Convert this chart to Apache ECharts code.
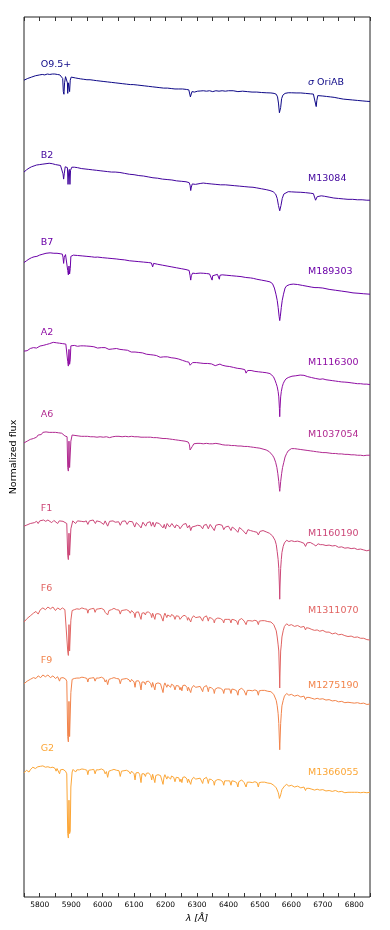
<!DOCTYPE html>
<html>
<head>
<meta charset="utf-8">
<script src="https://cdn.jsdelivr.net/npm/echarts@6/dist/echarts.min.js"></script>
<style>
  html, body { margin: 0; padding: 0; background: #fff; }
  #chart { width: 390px; height: 930px; }
</style>
</head>
<body>
<div id="chart"></div>
<script>
// wavelength ticks
var xTicks = [5800, 5900, 6000, 6100, 6200, 6300, 6400, 6500, 6600, 6700, 6800];

var spTypes = ["O9.5+", "B2", "B7", "A2", "A6", "F1", "F6", "F9", "G2"];
var starNames = ["σ OriAB", "M13084", "M189303", "M1116300", "M1037054", "M1160190", "M1311070", "M1275190", "M1366055"];
var colors = ["#0d0887", "#41049d", "#6a00a8", "#8f0da4", "#b12a90", "#cc4778", "#e16462", "#f2844b", "#fca636"];

// vertical offset of every spectrum
var offsets = [8.352, 7.338, 6.32, 5.303, 4.28, 3.284, 2.295, 1.523, 0.5];
// label heights (axis units)
var leftLabelY = [9.455, 8.424, 7.44, 6.413, 5.477, 4.42, 3.511, 2.682, 1.682];
var rightLabelY = [9.261, 8.159, 7.106, 6.076, 5.25, 4.136, 3.25, 2.398, 1.42];

// normalized flux, [wavelength, flux]
var sO95 = [[5750,0.93],[5756,0.945],[5762,0.95],[5768,0.96],[5774,0.965],[5780,0.975],[5786,0.98],[5792,0.985],[5800,0.99],[5808,0.995],[5816,0.99],[5824,1.0],[5832,0.995],[5840,1.0],[5848,1.0],[5856,0.995],[5864,0.99],[5870,0.985],[5873,0.95],[5875,0.8],[5877,0.77],[5879,0.9],[5882,0.97],[5886,0.97],[5888,0.9],[5889,0.78],[5891,0.9],[5893,0.92],[5895,0.8],[5897,0.93],[5900,0.965],[5906,0.96],[5914,0.955],[5922,0.95],[5930,0.945],[5940,0.94],[5950,0.935],[5960,0.935],[5970,0.93],[5980,0.925],[5992,0.92],[6004,0.915],[6016,0.91],[6028,0.905],[6040,0.9],[6052,0.895],[6064,0.89],[6076,0.885],[6088,0.88],[6097,0.88],[6110,0.875],[6122,0.87],[6134,0.865],[6146,0.86],[6158,0.855],[6170,0.85],[6182,0.845],[6194,0.84],[6206,0.84],[6218,0.835],[6230,0.83],[6242,0.83],[6254,0.83],[6266,0.825],[6274,0.82],[6277,0.8],[6279,0.74],[6281,0.76],[6284,0.8],[6288,0.81],[6292,0.795],[6296,0.81],[6302,0.805],[6310,0.807],[6320,0.81],[6330,0.805],[6340,0.81],[6350,0.8],[6360,0.81],[6370,0.805],[6380,0.81],[6390,0.805],[6400,0.81],[6415,0.81],[6430,0.8],[6445,0.805],[6460,0.8],[6475,0.795],[6490,0.795],[6505,0.79],[6520,0.787],[6535,0.785],[6545,0.78],[6552,0.77],[6556,0.74],[6559,0.67],[6562,0.56],[6564,0.55],[6566,0.62],[6569,0.72],[6573,0.76],[6580,0.78],[6590,0.787],[6600,0.787],[6615,0.785],[6630,0.785],[6645,0.78],[6660,0.775],[6670,0.772],[6674,0.76],[6677,0.66],[6679,0.63],[6681,0.7],[6684,0.755],[6690,0.755],[6700,0.75],[6712,0.745],[6724,0.74],[6736,0.735],[6750,0.725],[6765,0.715],[6780,0.71],[6795,0.705],[6810,0.7],[6825,0.695],[6840,0.69],[6850,0.688]];

var sB2 = [[5750,0.9],[5758,0.925],[5766,0.945],[5774,0.96],[5782,0.97],[5790,0.98],[5800,0.985],[5810,0.99],[5820,0.995],[5830,1.0],[5840,0.995],[5850,0.985],[5858,0.98],[5866,0.975],[5871,0.96],[5874,0.88],[5876,0.82],[5878,0.88],[5881,0.96],[5885,0.965],[5888,0.95],[5890,0.76],[5892,0.9],[5894,0.93],[5896,0.76],[5898,0.92],[5902,0.955],[5910,0.955],[5920,0.95],[5932,0.94],[5944,0.935],[5956,0.93],[5968,0.925],[5980,0.92],[5992,0.915],[6004,0.91],[6016,0.905],[6028,0.9],[6040,0.9],[6055,0.895],[6070,0.885],[6085,0.875],[6100,0.87],[6115,0.86],[6130,0.855],[6145,0.845],[6160,0.835],[6175,0.83],[6190,0.82],[6205,0.815],[6220,0.81],[6235,0.8],[6250,0.795],[6265,0.79],[6275,0.78],[6278,0.75],[6280,0.69],[6282,0.73],[6285,0.765],[6290,0.77],[6295,0.76],[6300,0.775],[6310,0.77],[6320,0.775],[6331,0.77],[6345,0.765],[6360,0.76],[6375,0.755],[6390,0.755],[6405,0.75],[6420,0.745],[6435,0.74],[6450,0.735],[6465,0.73],[6478,0.727],[6490,0.72],[6505,0.71],[6520,0.7],[6532,0.69],[6542,0.677],[6550,0.65],[6555,0.6],[6559,0.52],[6563,0.46],[6567,0.52],[6571,0.6],[6576,0.65],[6582,0.67],[6590,0.677],[6600,0.675],[6615,0.672],[6630,0.67],[6645,0.666],[6660,0.66],[6670,0.655],[6674,0.64],[6677,0.58],[6679,0.57],[6682,0.62],[6686,0.635],[6695,0.63],[6705,0.625],[6720,0.615],[6735,0.605],[6750,0.6],[6765,0.595],[6780,0.59],[6795,0.59],[6810,0.585],[6825,0.585],[6840,0.58],[6850,0.58]];

var sB7 = [[5750,0.89],[5758,0.91],[5766,0.93],[5774,0.945],[5782,0.955],[5791,0.96],[5800,0.975],[5810,0.985],[5820,0.995],[5833,1.0],[5845,0.995],[5855,0.995],[5865,0.99],[5872,0.985],[5874,0.95],[5876,0.88],[5878,0.95],[5882,0.98],[5887,0.975],[5889,0.8],[5891,0.75],[5893,0.85],[5895,0.76],[5897,0.82],[5899,0.96],[5907,0.974],[5920,0.97],[5935,0.965],[5950,0.96],[5965,0.955],[5975,0.95],[5980,0.935],[5984,0.952],[6000,0.945],[6015,0.94],[6030,0.935],[6045,0.93],[6055,0.925],[6070,0.92],[6085,0.91],[6100,0.905],[6115,0.9],[6130,0.895],[6145,0.89],[6155,0.885],[6159,0.84],[6162,0.88],[6175,0.87],[6190,0.86],[6205,0.85],[6220,0.84],[6235,0.83],[6250,0.82],[6265,0.81],[6275,0.8],[6278,0.74],[6280,0.69],[6282,0.74],[6286,0.77],[6290,0.78],[6295,0.765],[6300,0.775],[6310,0.77],[6320,0.768],[6330,0.765],[6340,0.76],[6346,0.745],[6348,0.69],[6350,0.74],[6355,0.76],[6365,0.755],[6369,0.74],[6371,0.7],[6373,0.745],[6380,0.75],[6395,0.745],[6410,0.74],[6425,0.735],[6440,0.73],[6455,0.72],[6470,0.715],[6479,0.71],[6490,0.7],[6505,0.69],[6520,0.68],[6532,0.67],[6540,0.65],[6546,0.6],[6551,0.53],[6555,0.46],[6558,0.38],[6561,0.28],[6563,0.23],[6565,0.28],[6568,0.38],[6571,0.46],[6575,0.53],[6580,0.6],[6585,0.625],[6595,0.64],[6606,0.645],[6620,0.64],[6635,0.63],[6650,0.62],[6665,0.61],[6675,0.605],[6680,0.595],[6685,0.605],[6700,0.6],[6720,0.585],[6740,0.575],[6760,0.565],[6780,0.555],[6796,0.545],[6815,0.54],[6830,0.535],[6850,0.53]];

var sA2 = [[5750,0.9],[5755,0.91],[5760,0.905],[5765,0.925],[5770,0.93],[5775,0.92],[5780,0.94],[5785,0.945],[5790,0.935],[5795,0.955],[5801,0.958],[5806,0.97],[5811,0.965],[5816,0.98],[5821,0.975],[5826,0.99],[5831,0.985],[5836,0.995],[5843,1.0],[5848,0.985],[5853,0.995],[5858,0.98],[5863,0.99],[5868,0.975],[5873,0.985],[5878,0.97],[5883,0.98],[5887,0.975],[5889,0.78],[5891,0.73],[5893,0.92],[5895,0.75],[5897,0.8],[5899,0.96],[5905,0.975],[5910,0.965],[5915,0.97],[5920,0.955],[5925,0.965],[5930,0.96],[5935,0.945],[5940,0.96],[5949,0.958],[5955,0.95],[5960,0.955],[5966,0.94],[5972,0.95],[5978,0.945],[5984,0.935],[5990,0.945],[5996,0.94],[6002,0.93],[6008,0.94],[6014,0.935],[6020,0.92],[6026,0.93],[6032,0.925],[6038,0.915],[6044,0.93],[6050,0.92],[6055,0.92],[6061,0.91],[6067,0.915],[6073,0.9],[6079,0.91],[6085,0.9],[6091,0.89],[6097,0.9],[6103,0.89],[6109,0.88],[6115,0.885],[6121,0.87],[6127,0.88],[6133,0.87],[6139,0.865],[6145,0.87],[6151,0.86],[6157,0.855],[6161,0.856],[6166,0.84],[6171,0.85],[6177,0.845],[6183,0.83],[6188,0.85],[6194,0.835],[6200,0.825],[6206,0.835],[6212,0.82],[6218,0.825],[6224,0.815],[6230,0.82],[6236,0.805],[6242,0.81],[6248,0.8],[6254,0.795],[6260,0.79],[6267,0.78],[6274,0.775],[6278,0.74],[6280,0.72],[6282,0.75],[6286,0.77],[6292,0.765],[6298,0.77],[6304,0.76],[6310,0.765],[6316,0.755],[6322,0.76],[6328,0.75],[6334,0.76],[6340,0.745],[6346,0.755],[6352,0.75],[6358,0.735],[6364,0.75],[6373,0.753],[6380,0.74],[6386,0.745],[6392,0.73],[6398,0.735],[6404,0.725],[6410,0.73],[6416,0.715],[6422,0.72],[6428,0.705],[6434,0.715],[6440,0.7],[6446,0.705],[6452,0.69],[6456,0.65],[6458,0.63],[6461,0.68],[6466,0.69],[6472,0.68],[6478,0.685],[6484,0.67],[6490,0.675],[6496,0.665],[6502,0.67],[6508,0.66],[6514,0.66],[6520,0.655],[6526,0.645],[6532,0.645],[6538,0.63],[6543,0.61],[6548,0.57],[6552,0.53],[6555,0.495],[6558,0.44],[6560,0.38],[6562,0.25],[6563,0.155],[6564,0.25],[6566,0.38],[6568,0.44],[6571,0.495],[6574,0.53],[6578,0.56],[6583,0.585],[6590,0.6],[6596,0.6],[6602,0.615],[6608,0.61],[6614,0.62],[6620,0.625],[6628,0.628],[6634,0.62],[6640,0.625],[6646,0.615],[6652,0.61],[6658,0.615],[6664,0.6],[6670,0.6],[6676,0.59],[6682,0.595],[6691,0.58],[6700,0.585],[6710,0.575],[6720,0.57],[6730,0.565],[6740,0.56],[6750,0.555],[6760,0.55],[6770,0.548],[6780,0.545],[6790,0.54],[6800,0.535],[6810,0.53],[6820,0.53],[6830,0.525],[6840,0.525],[6850,0.52]];

var sA6 = [[5750,0.88],[5755,0.87],[5760,0.9],[5765,0.89],[5770,0.92],[5775,0.915],[5780,0.93],[5785,0.95],[5790,0.945],[5795,0.97],[5800,0.985],[5805,0.975],[5810,1.0],[5815,0.99],[5820,1.005],[5825,0.99],[5830,1.0],[5835,0.985],[5840,1.0],[5845,0.99],[5850,1.0],[5855,0.985],[5860,0.995],[5865,0.98],[5870,0.99],[5875,0.97],[5880,0.96],[5884,0.975],[5887,0.95],[5889,0.6],[5891,0.56],[5893,0.9],[5895,0.6],[5897,0.62],[5899,0.9],[5903,0.97],[5907,0.977],[5912,0.965],[5917,0.975],[5922,0.96],[5927,0.97],[5932,0.955],[5937,0.965],[5942,0.955],[5947,0.97],[5952,0.955],[5957,0.965],[5962,0.95],[5967,0.96],[5972,0.95],[5977,0.96],[5982,0.945],[5987,0.96],[5992,0.95],[5997,0.955],[6002,0.945],[6007,0.96],[6012,0.95],[6017,0.955],[6022,0.94],[6027,0.955],[6032,0.95],[6037,0.945],[6042,0.955],[6047,0.945],[6052,0.955],[6057,0.945],[6062,0.95],[6067,0.94],[6072,0.955],[6077,0.945],[6082,0.95],[6087,0.94],[6092,0.955],[6097,0.945],[6102,0.95],[6107,0.94],[6112,0.95],[6117,0.94],[6122,0.945],[6127,0.935],[6132,0.945],[6137,0.935],[6142,0.945],[6147,0.93],[6152,0.945],[6157,0.935],[6162,0.94],[6167,0.925],[6172,0.94],[6177,0.93],[6182,0.935],[6187,0.925],[6192,0.93],[6197,0.92],[6202,0.93],[6207,0.915],[6212,0.925],[6217,0.915],[6222,0.92],[6227,0.91],[6232,0.915],[6237,0.905],[6242,0.91],[6247,0.9],[6252,0.905],[6257,0.895],[6262,0.9],[6267,0.893],[6272,0.89],[6276,0.86],[6278,0.8],[6280,0.78],[6282,0.8],[6285,0.84],[6290,0.87],[6295,0.86],[6300,0.875],[6305,0.865],[6310,0.875],[6315,0.86],[6320,0.87],[6325,0.865],[6330,0.875],[6335,0.86],[6340,0.87],[6345,0.86],[6350,0.87],[6355,0.865],[6360,0.875],[6365,0.86],[6373,0.867],[6380,0.86],[6385,0.865],[6390,0.855],[6395,0.865],[6400,0.855],[6405,0.86],[6410,0.85],[6415,0.86],[6420,0.85],[6425,0.855],[6430,0.845],[6435,0.855],[6440,0.845],[6445,0.85],[6450,0.84],[6455,0.85],[6460,0.84],[6465,0.845],[6470,0.835],[6475,0.84],[6480,0.83],[6485,0.835],[6490,0.825],[6495,0.83],[6500,0.82],[6505,0.82],[6510,0.81],[6515,0.81],[6520,0.8],[6525,0.79],[6530,0.78],[6535,0.765],[6540,0.74],[6545,0.71],[6550,0.66],[6554,0.6],[6557,0.53],[6560,0.44],[6562,0.36],[6563,0.33],[6564,0.36],[6566,0.44],[6569,0.53],[6572,0.6],[6576,0.66],[6580,0.72],[6585,0.76],[6590,0.79],[6595,0.805],[6600,0.815],[6605,0.82],[6610,0.815],[6615,0.82],[6620,0.81],[6625,0.815],[6630,0.805],[6635,0.81],[6640,0.8],[6645,0.805],[6650,0.795],[6655,0.8],[6660,0.79],[6665,0.795],[6670,0.785],[6675,0.79],[6680,0.78],[6685,0.785],[6690,0.775],[6695,0.78],[6700,0.77],[6705,0.775],[6710,0.77],[6715,0.775],[6720,0.765],[6725,0.77],[6730,0.76],[6735,0.765],[6740,0.76],[6745,0.765],[6750,0.755],[6755,0.76],[6760,0.755],[6765,0.76],[6770,0.75],[6775,0.755],[6780,0.75],[6785,0.755],[6790,0.745],[6795,0.75],[6800,0.745],[6805,0.75],[6810,0.74],[6815,0.745],[6820,0.74],[6825,0.745],[6830,0.735],[6835,0.74],[6840,0.74],[6845,0.735],[6850,0.74]];

var sF1 = [[5750,0.93],[5757,0.94],[5763,0.955],[5770,0.96],[5776,0.975],[5783,0.97],[5790,0.985],[5795,0.96],[5800,0.99],[5806,0.985],[5812,1.0],[5819,0.985],[5826,1.0],[5832,0.99],[5838,0.97],[5845,0.995],[5851,0.985],[5857,0.96],[5862,0.99],[5868,0.98],[5874,0.985],[5880,0.99],[5886,0.96],[5889,0.6],[5891,0.55],[5893,0.85],[5895,0.6],[5897,0.58],[5899,0.9],[5905,0.99],[5910,0.98],[5914,0.96],[5920,0.99],[5926,0.995],[5932,0.985],[5937,1.0],[5941,0.98],[5948,0.99],[5953,0.95],[5958,0.99],[5964,0.985],[5970,1.0],[5977,0.96],[5981,0.99],[5986,0.995],[5992,0.98],[5997,0.99],[6003,0.95],[6008,0.99],[6013,0.975],[6016,0.93],[6022,0.985],[6027,0.97],[6033,0.99],[6040,0.975],[6046,0.99],[6051,0.98],[6056,0.94],[6062,0.985],[6067,0.975],[6072,0.99],[6078,0.95],[6084,0.985],[6090,0.97],[6095,0.98],[6102,0.92],[6107,0.97],[6112,0.96],[6116,0.94],[6122,0.91],[6128,0.975],[6133,0.96],[6137,0.93],[6142,0.97],[6147,0.965],[6151,0.98],[6155,0.93],[6160,0.975],[6165,0.92],[6170,0.97],[6175,0.955],[6180,0.96],[6186,0.94],[6192,0.91],[6196,0.95],[6200,0.9],[6205,0.96],[6209,0.945],[6213,0.92],[6220,0.96],[6225,0.94],[6230,0.91],[6234,0.945],[6238,0.95],[6242,0.93],[6246,0.9],[6252,0.91],[6256,0.95],[6261,0.94],[6265,0.96],[6270,0.91],[6276,0.94],[6280,0.88],[6284,0.92],[6290,0.94],[6294,0.93],[6298,0.92],[6302,0.94],[6306,0.95],[6311,0.935],[6315,0.94],[6318,0.9],[6322,0.94],[6326,0.93],[6330,0.95],[6336,0.9],[6342,0.95],[6348,0.93],[6355,0.88],[6360,0.94],[6365,0.925],[6370,0.95],[6375,0.93],[6380,0.94],[6385,0.89],[6390,0.92],[6395,0.935],[6400,0.93],[6404,0.915],[6408,0.88],[6412,0.92],[6416,0.91],[6420,0.9],[6425,0.915],[6430,0.86],[6435,0.915],[6440,0.9],[6445,0.885],[6450,0.87],[6456,0.84],[6462,0.89],[6466,0.875],[6470,0.88],[6475,0.87],[6480,0.87],[6486,0.885],[6491,0.86],[6495,0.83],[6500,0.87],[6505,0.875],[6510,0.88],[6515,0.86],[6520,0.865],[6525,0.85],[6530,0.85],[6535,0.835],[6540,0.82],[6544,0.8],[6548,0.77],[6552,0.72],[6555,0.64],[6558,0.55],[6560,0.45],[6562,0.25],[6563,0.1],[6564,0.25],[6566,0.45],[6568,0.55],[6570,0.63],[6574,0.7],[6578,0.74],[6582,0.76],[6585,0.77],[6588,0.76],[6592,0.755],[6596,0.77],[6600,0.765],[6605,0.75],[6610,0.755],[6615,0.765],[6620,0.76],[6625,0.74],[6630,0.75],[6635,0.75],[6640,0.735],[6645,0.7],[6650,0.74],[6655,0.735],[6660,0.745],[6665,0.73],[6670,0.725],[6675,0.72],[6678,0.705],[6685,0.73],[6692,0.72],[6700,0.72],[6705,0.705],[6710,0.71],[6715,0.72],[6720,0.715],[6725,0.7],[6730,0.705],[6735,0.695],[6740,0.71],[6745,0.695],[6750,0.69],[6755,0.7],[6760,0.695],[6765,0.68],[6770,0.68],[6775,0.69],[6780,0.685],[6785,0.67],[6790,0.675],[6795,0.68],[6800,0.68],[6805,0.665],[6810,0.665],[6815,0.675],[6820,0.67],[6825,0.655],[6830,0.66],[6835,0.665],[6840,0.65],[6845,0.66],[6850,0.66]];

var sF6 = [[5750,0.83],[5755,0.85],[5760,0.87],[5765,0.885],[5770,0.9],[5775,0.915],[5780,0.93],[5784,0.94],[5788,0.95],[5795,0.92],[5802,0.97],[5806,0.96],[5810,0.99],[5814,0.98],[5818,0.97],[5822,0.985],[5826,1.0],[5830,0.99],[5834,0.98],[5838,0.995],[5842,1.0],[5846,0.985],[5850,0.96],[5853,0.98],[5857,0.99],[5861,0.975],[5865,0.97],[5869,0.985],[5872,0.99],[5876,0.98],[5880,0.97],[5886,0.95],[5889,0.5],[5891,0.45],[5893,0.8],[5895,0.5],[5897,0.5],[5899,0.85],[5903,0.96],[5906,0.98],[5910,0.97],[5914,0.95],[5918,0.98],[5922,0.99],[5926,0.975],[5930,0.97],[5934,0.99],[5938,1.0],[5942,0.98],[5946,0.96],[5950,0.975],[5953,0.93],[5956,0.97],[5960,0.99],[5964,0.98],[5968,0.97],[5972,0.985],[5976,0.94],[5980,0.975],[5984,0.99],[5988,0.98],[5992,0.97],[5996,0.985],[6000,0.99],[6004,0.97],[6008,0.94],[6012,0.96],[6016,0.91],[6020,0.96],[6024,0.98],[6028,0.97],[6032,0.96],[6036,0.985],[6040,0.99],[6044,0.97],[6048,0.95],[6052,0.965],[6056,0.92],[6060,0.96],[6064,0.98],[6068,0.965],[6072,0.95],[6076,0.97],[6080,0.97],[6084,0.955],[6088,0.93],[6092,0.96],[6096,0.96],[6100,0.93],[6103,0.88],[6106,0.94],[6110,0.96],[6114,0.945],[6118,0.93],[6122,0.86],[6125,0.93],[6128,0.95],[6132,0.935],[6136,0.91],[6139,0.94],[6142,0.96],[6146,0.945],[6150,0.94],[6153,0.92],[6156,0.88],[6159,0.93],[6162,0.95],[6166,0.86],[6169,0.92],[6172,0.94],[6176,0.925],[6180,0.93],[6184,0.915],[6188,0.9],[6192,0.84],[6195,0.9],[6198,0.93],[6201,0.91],[6204,0.88],[6207,0.91],[6210,0.93],[6213,0.91],[6216,0.89],[6219,0.915],[6222,0.93],[6226,0.9],[6230,0.86],[6234,0.9],[6238,0.92],[6242,0.895],[6246,0.86],[6249,0.88],[6252,0.85],[6255,0.9],[6258,0.92],[6262,0.905],[6265,0.9],[6268,0.88],[6270,0.85],[6273,0.88],[6276,0.9],[6280,0.83],[6283,0.87],[6285,0.89],[6289,0.9],[6292,0.9],[6296,0.88],[6300,0.86],[6303,0.885],[6306,0.9],[6310,0.89],[6314,0.88],[6318,0.84],[6321,0.88],[6324,0.89],[6327,0.88],[6330,0.9],[6333,0.875],[6336,0.84],[6339,0.88],[6342,0.89],[6346,0.875],[6350,0.87],[6353,0.85],[6355,0.82],[6358,0.86],[6362,0.88],[6366,0.875],[6370,0.89],[6374,0.87],[6378,0.86],[6382,0.85],[6385,0.82],[6388,0.86],[6392,0.87],[6396,0.86],[6400,0.88],[6404,0.86],[6408,0.82],[6411,0.86],[6414,0.87],[6418,0.855],[6422,0.85],[6426,0.84],[6430,0.8],[6433,0.85],[6436,0.86],[6439,0.85],[6442,0.87],[6446,0.85],[6450,0.84],[6453,0.83],[6456,0.8],[6460,0.845],[6464,0.86],[6468,0.845],[6472,0.85],[6476,0.84],[6480,0.84],[6484,0.85],[6488,0.86],[6491,0.84],[6495,0.8],[6498,0.84],[6502,0.85],[6506,0.845],[6510,0.86],[6515,0.845],[6520,0.85],[6525,0.835],[6530,0.84],[6535,0.83],[6540,0.82],[6544,0.8],[6548,0.78],[6552,0.73],[6555,0.66],[6558,0.57],[6560,0.5],[6562,0.25],[6563,0.08],[6564,0.25],[6566,0.5],[6568,0.57],[6570,0.66],[6574,0.73],[6578,0.78],[6582,0.8],[6585,0.81],[6588,0.8],[6592,0.79],[6596,0.805],[6600,0.8],[6605,0.785],[6610,0.78],[6615,0.795],[6620,0.79],[6625,0.77],[6630,0.77],[6635,0.78],[6640,0.78],[6645,0.74],[6648,0.765],[6652,0.77],[6656,0.76],[6660,0.76],[6665,0.745],[6670,0.74],[6674,0.735],[6678,0.72],[6682,0.74],[6686,0.74],[6690,0.725],[6695,0.72],[6700,0.735],[6705,0.73],[6710,0.715],[6715,0.7],[6720,0.715],[6725,0.71],[6730,0.695],[6735,0.69],[6740,0.705],[6745,0.7],[6750,0.685],[6755,0.68],[6760,0.69],[6765,0.67],[6770,0.675],[6775,0.68],[6780,0.665],[6785,0.66],[6790,0.67],[6795,0.67],[6800,0.655],[6805,0.65],[6810,0.66],[6815,0.66],[6820,0.645],[6825,0.64],[6830,0.645],[6835,0.635],[6840,0.63],[6845,0.635],[6850,0.625]];

var sF9 = [[5750,0.9],[5755,0.915],[5760,0.93],[5765,0.935],[5770,0.95],[5775,0.96],[5780,0.97],[5784,0.965],[5788,0.96],[5792,0.98],[5795,0.99],[5799,0.975],[5803,0.97],[5807,0.99],[5810,1.0],[5814,0.985],[5818,0.98],[5822,0.995],[5826,1.0],[5830,0.985],[5834,0.97],[5838,0.985],[5842,0.99],[5846,0.975],[5850,0.96],[5853,0.975],[5857,0.98],[5860,0.96],[5863,0.93],[5866,0.965],[5870,0.98],[5874,0.97],[5878,0.96],[5882,0.955],[5886,0.93],[5889,0.3],[5891,0.24],[5893,0.7],[5895,0.3],[5897,0.3],[5899,0.8],[5903,0.95],[5906,0.97],[5910,0.96],[5914,0.94],[5918,0.965],[5922,0.98],[5926,0.965],[5930,0.96],[5934,0.975],[5938,0.99],[5942,0.97],[5946,0.95],[5950,0.96],[5953,0.92],[5956,0.96],[5960,0.98],[5964,0.965],[5968,0.96],[5972,0.97],[5976,0.93],[5980,0.965],[5984,0.98],[5988,0.965],[5992,0.96],[5996,0.975],[6000,0.98],[6004,0.96],[6008,0.92],[6012,0.945],[6016,0.89],[6020,0.95],[6024,0.97],[6028,0.96],[6032,0.95],[6036,0.97],[6040,0.98],[6044,0.96],[6048,0.94],[6052,0.955],[6056,0.9],[6060,0.95],[6064,0.97],[6068,0.955],[6072,0.94],[6076,0.96],[6080,0.96],[6084,0.945],[6088,0.92],[6092,0.95],[6096,0.95],[6100,0.92],[6103,0.86],[6106,0.93],[6110,0.95],[6114,0.935],[6118,0.91],[6122,0.83],[6125,0.92],[6128,0.94],[6132,0.92],[6136,0.89],[6139,0.925],[6142,0.94],[6146,0.93],[6150,0.92],[6153,0.9],[6156,0.86],[6159,0.915],[6162,0.93],[6166,0.83],[6169,0.9],[6172,0.92],[6176,0.91],[6180,0.91],[6184,0.9],[6188,0.88],[6192,0.8],[6195,0.88],[6198,0.91],[6201,0.89],[6204,0.86],[6207,0.89],[6210,0.91],[6213,0.89],[6216,0.86],[6219,0.895],[6222,0.91],[6226,0.88],[6230,0.83],[6234,0.88],[6238,0.9],[6242,0.875],[6246,0.83],[6249,0.86],[6252,0.82],[6255,0.88],[6258,0.9],[6262,0.885],[6265,0.88],[6268,0.86],[6270,0.82],[6273,0.86],[6276,0.88],[6280,0.8],[6283,0.85],[6285,0.87],[6289,0.88],[6292,0.88],[6296,0.86],[6300,0.84],[6303,0.865],[6306,0.88],[6310,0.87],[6314,0.86],[6318,0.81],[6321,0.86],[6324,0.87],[6327,0.86],[6330,0.88],[6333,0.855],[6336,0.81],[6339,0.86],[6342,0.87],[6346,0.855],[6350,0.85],[6353,0.83],[6355,0.79],[6358,0.84],[6362,0.86],[6366,0.855],[6370,0.87],[6374,0.85],[6378,0.84],[6382,0.83],[6385,0.79],[6388,0.84],[6392,0.85],[6396,0.84],[6400,0.86],[6404,0.84],[6408,0.79],[6411,0.84],[6414,0.85],[6418,0.835],[6422,0.83],[6426,0.82],[6430,0.77],[6433,0.83],[6436,0.84],[6439,0.83],[6442,0.85],[6446,0.83],[6450,0.82],[6453,0.81],[6456,0.77],[6460,0.825],[6464,0.84],[6468,0.825],[6472,0.83],[6476,0.82],[6480,0.82],[6484,0.83],[6488,0.84],[6491,0.82],[6495,0.77],[6498,0.82],[6502,0.83],[6506,0.825],[6510,0.84],[6515,0.825],[6520,0.83],[6525,0.815],[6530,0.82],[6535,0.81],[6540,0.8],[6544,0.78],[6548,0.76],[6552,0.71],[6555,0.65],[6558,0.56],[6560,0.45],[6562,0.25],[6563,0.15],[6564,0.25],[6566,0.45],[6568,0.56],[6570,0.65],[6574,0.71],[6578,0.76],[6582,0.78],[6585,0.79],[6588,0.78],[6592,0.77],[6596,0.785],[6600,0.78],[6605,0.765],[6610,0.76],[6615,0.775],[6620,0.77],[6625,0.75],[6630,0.75],[6635,0.76],[6640,0.76],[6645,0.72],[6648,0.745],[6652,0.75],[6656,0.745],[6660,0.75],[6665,0.735],[6670,0.73],[6674,0.725],[6678,0.71],[6682,0.735],[6686,0.74],[6690,0.725],[6695,0.72],[6700,0.73],[6705,0.73],[6710,0.715],[6715,0.71],[6720,0.72],[6725,0.72],[6730,0.705],[6735,0.7],[6740,0.71],[6745,0.71],[6750,0.695],[6755,0.7],[6760,0.7],[6765,0.69],[6770,0.685],[6775,0.7],[6780,0.69],[6785,0.68],[6790,0.685],[6795,0.69],[6800,0.68],[6805,0.675],[6810,0.685],[6815,0.69],[6820,0.675],[6825,0.67],[6830,0.68],[6835,0.675],[6840,0.665],[6845,0.67],[6850,0.67]];

var sG2 = [[5750,0.91],[5754,0.93],[5758,0.94],[5762,0.925],[5766,0.92],[5770,0.945],[5774,0.96],[5778,0.975],[5782,0.98],[5786,0.96],[5790,0.95],[5794,0.98],[5798,1.0],[5802,0.985],[5806,0.97],[5810,0.99],[5814,0.99],[5818,0.975],[5822,0.96],[5826,0.98],[5830,0.99],[5834,0.97],[5838,0.95],[5842,0.975],[5846,0.98],[5849,0.96],[5852,0.93],[5855,0.96],[5858,0.97],[5861,0.94],[5863,0.9],[5866,0.945],[5870,0.96],[5874,0.95],[5878,0.94],[5882,0.93],[5886,0.9],[5889,0.22],[5891,0.17],[5893,0.6],[5895,0.22],[5897,0.25],[5899,0.75],[5903,0.92],[5906,0.95],[5910,0.94],[5914,0.92],[5918,0.945],[5922,0.96],[5926,0.945],[5930,0.94],[5934,0.955],[5938,0.97],[5942,0.95],[5946,0.93],[5950,0.94],[5953,0.89],[5956,0.94],[5960,0.96],[5964,0.945],[5968,0.94],[5972,0.95],[5976,0.9],[5980,0.945],[5984,0.96],[5988,0.945],[5992,0.94],[5996,0.955],[6000,0.96],[6004,0.94],[6008,0.9],[6012,0.925],[6016,0.86],[6020,0.93],[6024,0.95],[6028,0.94],[6032,0.93],[6036,0.95],[6040,0.96],[6044,0.94],[6048,0.92],[6052,0.935],[6056,0.87],[6060,0.93],[6064,0.95],[6068,0.935],[6072,0.92],[6076,0.94],[6080,0.94],[6084,0.925],[6088,0.9],[6092,0.93],[6096,0.93],[6100,0.9],[6103,0.83],[6106,0.91],[6110,0.93],[6114,0.915],[6118,0.89],[6122,0.8],[6125,0.9],[6128,0.92],[6132,0.9],[6136,0.87],[6139,0.905],[6142,0.92],[6146,0.91],[6150,0.9],[6153,0.88],[6156,0.83],[6159,0.895],[6162,0.91],[6166,0.8],[6169,0.88],[6172,0.9],[6176,0.89],[6180,0.89],[6184,0.88],[6188,0.86],[6192,0.78],[6195,0.86],[6198,0.89],[6201,0.87],[6204,0.84],[6207,0.87],[6210,0.89],[6213,0.87],[6216,0.84],[6219,0.875],[6222,0.89],[6226,0.86],[6230,0.81],[6234,0.86],[6238,0.88],[6242,0.855],[6246,0.81],[6249,0.84],[6252,0.8],[6255,0.86],[6258,0.88],[6262,0.865],[6265,0.86],[6268,0.84],[6270,0.8],[6273,0.84],[6276,0.86],[6280,0.78],[6283,0.83],[6285,0.85],[6289,0.86],[6292,0.86],[6296,0.84],[6300,0.82],[6303,0.845],[6306,0.86],[6310,0.85],[6314,0.84],[6318,0.79],[6321,0.84],[6324,0.85],[6327,0.84],[6330,0.86],[6333,0.835],[6336,0.79],[6339,0.84],[6342,0.85],[6346,0.835],[6350,0.83],[6353,0.81],[6355,0.77],[6358,0.82],[6362,0.84],[6366,0.835],[6370,0.85],[6374,0.83],[6378,0.82],[6382,0.81],[6385,0.77],[6388,0.82],[6392,0.83],[6396,0.82],[6400,0.84],[6404,0.82],[6408,0.77],[6411,0.82],[6414,0.83],[6418,0.815],[6422,0.81],[6426,0.8],[6430,0.75],[6433,0.81],[6436,0.82],[6439,0.81],[6442,0.83],[6446,0.81],[6450,0.8],[6453,0.79],[6456,0.75],[6460,0.805],[6464,0.82],[6468,0.805],[6472,0.81],[6476,0.8],[6480,0.8],[6484,0.81],[6488,0.82],[6491,0.8],[6495,0.75],[6498,0.8],[6502,0.81],[6506,0.805],[6510,0.82],[6515,0.805],[6520,0.81],[6525,0.795],[6530,0.8],[6535,0.79],[6540,0.78],[6544,0.77],[6548,0.76],[6552,0.74],[6555,0.72],[6558,0.69],[6560,0.66],[6562,0.62],[6563,0.6],[6564,0.62],[6566,0.66],[6568,0.69],[6570,0.72],[6574,0.74],[6578,0.76],[6582,0.77],[6585,0.78],[6588,0.77],[6592,0.76],[6596,0.775],[6600,0.77],[6605,0.755],[6610,0.75],[6615,0.765],[6620,0.76],[6625,0.74],[6630,0.74],[6635,0.75],[6640,0.75],[6645,0.71],[6648,0.735],[6652,0.74],[6656,0.735],[6660,0.74],[6665,0.725],[6670,0.72],[6674,0.715],[6678,0.7],[6682,0.725],[6686,0.73],[6690,0.715],[6695,0.71],[6700,0.72],[6705,0.72],[6710,0.705],[6715,0.7],[6720,0.71],[6725,0.71],[6730,0.7],[6735,0.695],[6740,0.71],[6745,0.705],[6750,0.695],[6755,0.7],[6760,0.7],[6765,0.69],[6770,0.685],[6775,0.7],[6780,0.69],[6785,0.68],[6790,0.69],[6795,0.7],[6800,0.69],[6805,0.68],[6810,0.69],[6815,0.7],[6820,0.685],[6825,0.68],[6830,0.69],[6835,0.695],[6840,0.685],[6845,0.69],[6850,0.69]];

var spectra = [sO95, sB2, sB7, sA2, sA6, sF1, sF6, sF9, sG2];

var myChart = echarts.init(document.getElementById("chart"), null, { renderer: "canvas" });

var series = spectra.map(function (sp, i) {
  return {
    name: spTypes[i],
    type: "line",
    showSymbol: false,
    silent: true,
    lineStyle: { width: 1, color: colors[i] },
    data: sp.map(function (p) { return [p[0], p[1] + offsets[i]]; }),
    markPoint: {
      symbol: "circle",
      symbolSize: 0,
      silent: true,
      label: {
        show: true,
        position: "right",
        distance: 0,
        color: colors[i],
        fontSize: 9.5,
        fontFamily: "DejaVu Sans",
        rich: { it: { fontStyle: "italic", color: colors[i], fontSize: 9.5, fontFamily: "DejaVu Sans" } }
      },
      data: [
        { coord: [5803, leftLabelY[i]], label: { formatter: spTypes[i] } },
        { coord: [6653, rightLabelY[i]], label: { formatter: i === 0 ? "{it|σ} OriAB" : starNames[i] } }
      ]
    }
  };
});

var option = {
  animation: false,
  backgroundColor: "#fff",
  grid: { left: 24, right: 20, top: 17, bottom: 33, containLabel: false, outerBoundsMode: "none", show: true, borderColor: "#222", borderWidth: 1 },
  xAxis: [
    {
      type: "value",
      min: 5750,
      max: 6850,
      interval: 50,
      name: "λ [Å]",
      nameLocation: "middle",
      nameGap: 13,
      nameTextStyle: { fontSize: 9.5, fontStyle: "italic", fontFamily: "DejaVu Sans", color: "#000" },
      axisLine: { show: false },
      axisTick: { show: true, inside: true, length: 4, lineStyle: { color: "#333" } },
      axisLabel: {
        fontSize: 7.5,
        fontFamily: "DejaVu Sans",
        color: "#000",
        margin: 4,
        formatter: function (v) { return xTicks.indexOf(Math.round(v)) >= 0 ? String(v) : ""; }
      },
      splitLine: { show: false }
    },
    {
      type: "value",
      position: "top",
      min: 5750,
      max: 6850,
      interval: 50,
      axisLine: { show: false },
      axisTick: { show: true, inside: true, length: 4, lineStyle: { color: "#333" } },
      axisLabel: { show: false },
      splitLine: { show: false }
    }
  ],
  yAxis: {
    type: "value",
    min: 0,
    max: 10,
    name: "Normalized flux",
    nameLocation: "middle",
    nameGap: 5,
    nameTextStyle: { fontSize: 9.5, fontFamily: "DejaVu Sans", color: "#000" },
    axisLine: { show: false },
    axisTick: { show: false },
    axisLabel: { show: false },
    splitLine: { show: false }
  },
  series: series
};

myChart.setOption(option);
</script>
</body>
</html>
